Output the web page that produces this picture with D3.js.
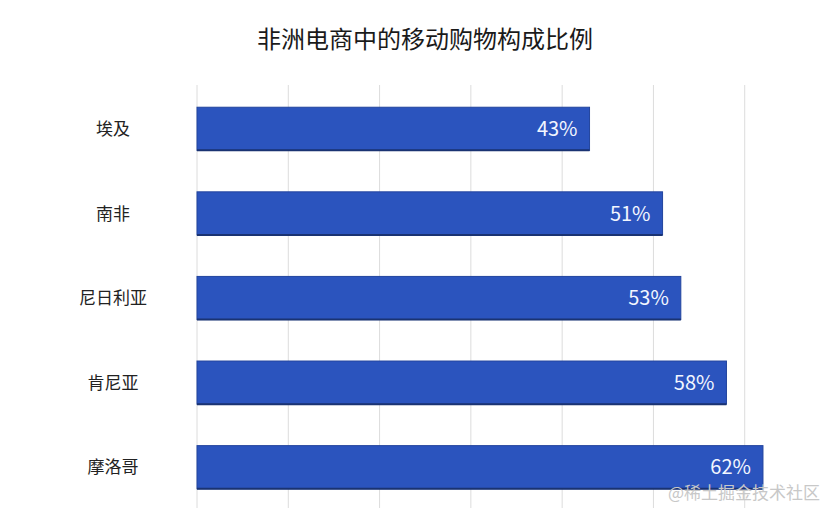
<!DOCTYPE html>
<html>
<head>
<meta charset="utf-8">
<script src="https://cdn.jsdelivr.net/npm/d3@7"></script>
<style>
  body { margin: 0; background: #fff; }
  text { font-family: "Noto Sans CJK SC", "Noto Sans", sans-serif; }
</style>
</head>
<body>
<div id="chart"></div>
<script>
// data
var countries = ["埃及", "南非", "尼日利亚", "肯尼亚", "摩洛哥"];
var shares = [43, 51, 53, 58, 62];
var ticks = [0, 10, 20, 30, 40, 50, 60];

var svgWidth = 836;
var svgHeight = 517;

var svg = d3.select("#chart")
    .append("svg")
    .attr("width", svgWidth)
    .attr("height", svgHeight);

var xScale = d3.scaleLinear()
    .domain([0, 70])
    .range([197, 836]);

var yScale = d3.scaleBand()
    .domain(countries)
    .range([86.5, 509.5])
    .paddingInner(0.49)
    .paddingOuter(0.245);

// grid lines
svg.append("g")
    .selectAll("line")
    .data(ticks)
    .enter()
    .append("line")
    .attr("x1", d => xScale(d))
    .attr("x2", d => xScale(d))
    .attr("y1", 85)
    .attr("y2", 508)
    .attr("stroke", "#dcdcdc")
    .attr("stroke-width", 1);

// bars (with a darker bottom edge)
var bars = svg.append("g")
    .selectAll("g")
    .data(countries)
    .enter()
    .append("g");

bars.append("rect")
    .attr("x", xScale(0))
    .attr("y", d => yScale(d))
    .attr("width", (d, i) => xScale(shares[i]) - xScale(0))
    .attr("height", yScale.bandwidth())
    .attr("fill", "#2b54be")
    .attr("stroke", "#22449e")
    .attr("stroke-width", 1);

bars.append("line")
    .attr("x1", xScale(0))
    .attr("x2", (d, i) => xScale(shares[i]))
    .attr("y1", d => yScale(d) + yScale.bandwidth())
    .attr("y2", d => yScale(d) + yScale.bandwidth())
    .attr("stroke", "#1a3372")
    .attr("stroke-width", 2);

// value labels
bars.append("text")
    .attr("x", (d, i) => xScale(shares[i]) - 12)
    .attr("y", d => yScale(d) + yScale.bandwidth() / 2)
    .attr("dy", "0.36em")
    .attr("text-anchor", "end")
    .attr("fill", "#f2f6ff")
    .attr("font-family", "Lato, sans-serif")
    .attr("font-size", 20)
    .text((d, i) => shares[i] + "%");

// category labels
svg.append("g")
    .selectAll("text")
    .data(countries)
    .enter()
    .append("text")
    .attr("x", 113)
    .attr("y", d => yScale(d) + yScale.bandwidth() / 2)
    .attr("dy", "0.36em")
    .attr("text-anchor", "middle")
    .attr("fill", "#222")
    .attr("font-size", 17)
    .text(d => d);

// title
svg.append("text")
    .attr("x", 425)
    .attr("y", 48)
    .attr("text-anchor", "middle")
    .attr("fill", "#1a1a1a")
    .attr("font-size", 24)
    .text("非洲电商中的移动购物构成比例");

// watermark
svg.append("text")
    .attr("x", 820)
    .attr("y", 499)
    .attr("text-anchor", "end")
    .attr("fill", "#c8c8c8")
    .attr("font-size", 17)
    .text("@稀土掘金技术社区");
</script>
</body>
</html>
